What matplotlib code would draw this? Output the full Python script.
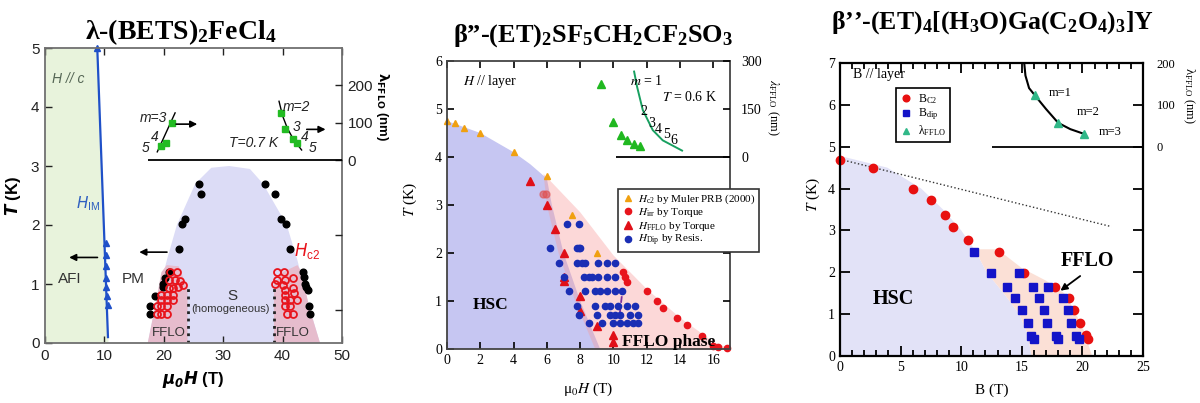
import numpy as np
import matplotlib
matplotlib.use('Agg')
import matplotlib.pyplot as plt

plt.rcParams['font.family'] = ['Liberation Sans', 'DejaVu Sans']
plt.rcParams['mathtext.fontset'] = 'stix'
plt.rcParams['mathtext.rm'] = 'Liberation Serif:bold'
plt.rcParams['mathtext.it'] = 'Liberation Serif:italic:bold'
plt.rcParams['mathtext.bf'] = 'Liberation Serif:bold'
SERIF = ['Liberation Serif', 'DejaVu Serif']

# ---------------- panel 1 data : lambda-(BETS)2FeCl4 ----------------
him_line_H = [8.8, 10.6]
him_line_T = [5.0, 0.1]
afi_edge_H = [8.8, 10.6, 10.6]
afi_edge_T = [5.0, 0.1, 0.0]
him_H = [8.8, 10.3, 10.3, 10.2, 10.3, 10.3, 10.5, 10.6]
him_T = [5.0, 1.7, 1.5, 1.3, 1.1, 0.95, 0.8, 0.65]

dome_H = [17.3, 18.5, 20.5, 22.2, 25.3, 28.0, 31.0, 34.5, 36.7, 40.7, 42.5, 44.5, 46.3]
dome_T = [0.0, 0.6, 1.4, 2.0, 2.7, 2.97, 3.0, 2.95, 2.7, 2.0, 1.4, 0.6, 0.0]
fflo_left_H = [17.3, 18.5, 19.6, 20.5, 22.5, 23.5, 24.0, 24.0]
fflo_left_T = [0.0, 0.6, 1.2, 1.32, 1.3, 1.05, 0.98, 0.0]
fflo_right_H = [38.55, 38.55, 40.0, 42.5, 43.2, 44.5, 46.3]
fflo_right_T = [0.0, 0.98, 1.2, 1.32, 1.2, 0.6, 0.0]

black_H = [26.0, 26.2, 37.0, 38.8, 23.6, 23.0, 22.6, 39.7, 40.5, 41.3,
           20.8, 20.2, 19.9, 19.8, 18.5, 17.7, 17.7,
           43.5, 43.6, 43.8, 44.0, 44.3, 44.5, 44.6]
black_T = [2.69, 2.52, 2.69, 2.52, 2.1, 2.02, 1.6, 2.1, 2.02, 1.6,
           1.21, 1.1, 1.0, 0.95, 0.8, 0.62, 0.5,
           1.21, 1.12, 1.0, 0.95, 0.9, 0.62, 0.5]

hc2_H = [18.8, 19.6, 20.5, 18.8, 19.6, 20.5, 19.6, 20.5, 21.6, 19.6, 20.5, 21.6,
         20.8, 21.6, 22.4, 23.3, 20.8, 21.9, 22.8, 21.0, 22.2,
         39.0, 40.3, 39.0, 40.4, 41.8, 38.7, 40.0, 40.4, 41.8, 40.4, 42.0,
         40.4, 41.2, 42.4, 40.4, 41.2, 40.8, 41.8]
hc2_T = [0.5, 0.5, 0.5, 0.62, 0.62, 0.62, 0.73, 0.73, 0.73, 0.81, 0.81, 0.81,
         0.93, 0.93, 0.95, 0.98, 1.07, 1.07, 1.05, 1.21, 1.21,
         1.21, 1.21, 1.07, 1.07, 1.1, 1.0, 0.98, 0.9, 0.93, 0.81, 0.85,
         0.73, 0.73, 0.73, 0.62, 0.62, 0.5, 0.5]

lam1_H_a = [21.4, 20.3, 19.6]
lam1_a = [98, 46, 38]
lam1_H_b = [39.7, 40.4, 41.8, 42.5]
lam1_b = [127, 82, 55, 46]
lam1_fit_H_a = [18.9, 21.9]
lam1_fit_a = [22, 126]
lam1_fit_H_b = [39.4, 40.0, 40.8, 41.8, 43.2]
lam1_fit_b = [157, 118, 85, 56, 27]

# ---------------- panel 2 data : beta''-(ET)2SF5CH2CF2SO3 ----------------
hsc2_H = [0, 0, 2, 4, 5, 6, 6.3, 7.0, 8.0, 9.2]
hsc2_T = [0, 4.75, 4.5, 4.1, 3.85, 3.55, 3.0, 2.0, 1.0, 0]
fflo2_H = [5.8, 8.0, 10.0, 12.0, 14.0, 16.0, 17.0, 8.9, 7.7, 6.7, 6.0]
fflo2_T = [3.65, 2.85, 1.95, 1.25, 0.65, 0.15, 0.0, 0.0, 1.0, 2.0, 3.0]

muler_H = [0, 0.5, 1, 2, 4, 6, 7.5, 9]
muler_T = [4.75, 4.7, 4.6, 4.5, 4.1, 3.6, 2.8, 2.0]
hirr_H = [10.6, 10.7, 10.8, 12.0, 12.6, 13.0, 13.8, 14.4, 15.3, 16.0, 16.3, 16.8]
hirr_T = [1.6, 1.5, 1.4, 1.2, 1.0, 0.85, 0.65, 0.5, 0.28, 0.07, 0.04, 0.03]
hirr_faint_H = [5.75, 5.95]
hirr_faint_T = [3.22, 3.22]
hfflo_H = [5.0, 6.0, 6.5, 7.0, 7.0, 7.0, 8.0, 8.0, 9.0, 10.0, 10.0]
hfflo_T = [3.5, 3.0, 2.5, 2.0, 1.5, 1.42, 1.1, 0.8, 0.48, 0.29, 0.15]
hdip_H = [7.2, 7.9,
          6.2, 7.8, 7.9, 8.0,
          6.7, 7.8, 8.1, 8.3, 9.1, 9.6, 10.1,
          7.0, 8.2, 8.5, 8.7, 9.1, 9.6, 10.1,
          7.3, 8.3, 8.9, 9.2, 9.6, 10.1, 10.5,
          7.8, 8.9, 9.5, 9.8, 10.3, 10.8, 11.3,
          7.9, 9.0, 9.8, 10.1, 10.4, 11.0, 11.5,
          8.5, 9.3, 10.0, 10.4, 10.8, 11.2, 11.5]
hdip_T = [2.6, 2.6,
          2.1, 2.1, 2.1, 2.1,
          1.8, 1.8, 1.8, 1.8, 1.8, 1.8, 1.8,
          1.5, 1.5, 1.5, 1.5, 1.5, 1.5, 1.5,
          1.2, 1.2, 1.2, 1.2, 1.2, 1.2, 1.2,
          0.9, 0.9, 0.9, 0.9, 0.9, 0.9, 0.9,
          0.7, 0.7, 0.7, 0.7, 0.7, 0.7, 0.7,
          0.55, 0.55, 0.55, 0.55, 0.55, 0.55, 0.55]
lam2_H = [9.27, 9.97, 10.43, 10.83, 11.23, 11.57]
lam2 = [228, 108, 70, 52, 40, 35]
lam2_fit_H = [11.24, 11.42, 11.76, 12.36, 12.96, 14.12]
lam2_fit = [267, 219, 147, 84, 52, 20]
m2_labels = ['2', '3', '4', '5', '6']
m2_H = [11.8, 12.3, 12.7, 13.2, 13.6]
m2_lam = [141, 105, 87, 69, 50]

# ---------------- panel 3 data : beta''-(ET)4[(H3O)Ga(C2O4)3]Y ----------------
hsc3_B = [0, 0, 3.9, 6.7, 8.5, 10.0, 11.2, 12.1, 13.5, 14.8, 15.5, 15.8]
hsc3_T = [0, 4.78, 4.5, 4.0, 3.5, 3.0, 2.5, 2.0, 1.5, 1.0, 0.5, 0.0]
fflo3_B = [10.8, 13.0, 15.0, 17.0, 18.5, 19.3, 20.0, 20.8, 15.8, 15.5, 14.8, 13.5, 12.1, 11.2]
fflo3_T = [2.55, 2.55, 2.1, 1.8, 1.5, 1.1, 0.7, 0.0, 0.0, 0.5, 1.0, 1.5, 2.0, 2.5]
bc2_B = [0, 2.7, 6.0, 7.5, 8.7, 9.35, 10.6, 13.1, 15.2, 17.7, 18.9, 19.3, 19.8, 20.3, 20.5]
bc2_T = [4.69, 4.5, 3.99, 3.72, 3.38, 3.08, 2.78, 2.48, 1.98, 1.65, 1.38, 1.11, 0.78, 0.49, 0.4]
bdip_B = [11.06, 12.5, 14.8, 13.8, 15.9, 17.2, 14.4, 16.4, 18.4, 14.98, 16.8, 18.8,
          15.5, 17.1, 19.1, 15.8, 16.0, 17.8, 18.0, 19.5, 19.7]
bdip_T = [2.48, 1.98, 1.98, 1.65, 1.65, 1.65, 1.38, 1.38, 1.38, 1.11, 1.11, 1.11,
          0.78, 0.78, 0.78, 0.48, 0.4, 0.48, 0.4, 0.48, 0.4]
pauli_B = [0, 22.4]
pauli_T = [4.7, 3.09]
lam3_B = [16.1, 18.0, 20.1]
lam3 = [123, 57, 31]
lam3_fit_B = [15.2, 15.3, 15.6, 16.1, 17.0, 18.0, 19.0, 20.1]
lam3_fit = [200, 170, 140, 122, 90, 57, 42, 31]
m3_labels = ['m=1', 'm=2', 'm=3']
m3_B = [18.2, 20.5, 22.3]
m3_lam = [129, 82, 34]

W, H = 1200, 403
fig = plt.figure(figsize=(W / 100, H / 100), dpi=100)


def box(l, t, r, b):
    return [l / W, 1 - b / H, (r - l) / W, (b - t) / H]


# ======================= panel 1 =======================
ax1 = fig.add_axes(box(45, 48, 342, 343))
ax1.set_xlim(0, 50)
ax1.set_ylim(0, 5)
ax1.fill_betweenx(afi_edge_T, 0, afi_edge_H, color='#e8f3dc', lw=0)
ax1.fill(dome_H, dome_T, color='#dcdcf6', lw=0)
ax1.fill(fflo_left_H, fflo_left_T, color='#e6bccd', lw=0)
ax1.fill(fflo_right_H, fflo_right_T, color='#e6bccd', lw=0)
ax1.plot([24, 24], [0, 0.98], ls=':', color='#222222', lw=2)
ax1.plot([38.55, 38.55], [0, 0.98], ls=':', color='#222222', lw=2)
ax1.plot(him_line_H, him_line_T, color='#1f50c8', lw=1.6)
ax1.plot(him_H, him_T, '^', color='#1f50c8', ms=5, clip_on=False)
ax1.plot(black_H, black_T, 'o', color='black', ms=4.8)
ax1.plot(hc2_H, hc2_T, 'o', mfc='none', mec='#e8141c', mew=1.3, ms=5)

ax1.annotate('', xy=(3.6, 1.45), xytext=(9.3, 1.45),
             arrowprops=dict(arrowstyle='-|>', color='black', lw=1.2))
ax1.annotate('', xy=(15.4, 1.54), xytext=(21.0, 1.54),
             arrowprops=dict(arrowstyle='-|>', color='black', lw=1.2))
ax1.text(3.9, 4.47, 'H // c', style='italic', fontsize=10, color='#556655', ha='center', va='center')
ax1.text(7.3, 2.37, r'$H_\mathregular{IM}$', color='#3060c0', fontsize=11, ha='center', va='center',
         math_fontfamily='dejavusans')
ax1.text(4.2, 1.08, 'AFI', fontsize=11, color='#333333', ha='center', va='center')
ax1.text(14.9, 1.08, 'PM', fontsize=11, color='#333333', ha='center', va='center')
ax1.text(31.5, 0.79, 'S', fontsize=11, color='#333333', ha='center', va='center')
ax1.text(31.3, 0.58, '(homogeneous)', fontsize=8, color='#333333', ha='center', va='center')
ax1.text(20.8, 0.17, 'FFLO', fontsize=9.5, color='#333333', ha='center', va='center')
ax1.text(41.8, 0.17, 'FFLO', fontsize=9.5, color='#333333', ha='center', va='center')
ax1.text(44.2, 1.56, r'$H_\mathregular{c2}$', color='#e8141c', fontsize=12, ha='center', va='center',
         math_fontfamily='dejavusans')

ax1.set_xticks([0, 10, 20, 30, 40, 50])
ax1.set_yticks([0, 1, 2, 3, 4, 5])
ax1.tick_params(direction='in', top=True, right=False, labelsize=11, colors='#222222',
                length=5, width=1, pad=4)
for sp in ax1.spines.values():
    sp.set_color('#707070')
    sp.set_linewidth(1.3)
ax1.set_xlabel(r'$\mathbfit{\mu_0H}$ (T)', fontsize=12, fontweight='bold', labelpad=5,
               math_fontfamily='dejavusans')
ax1.set_ylabel(r'$\mathbfit{T}$ (K)', fontsize=12, fontweight='bold', labelpad=6,
               math_fontfamily='dejavusans')

tw1 = ax1.twinx()
# lambda 0 at T=3.10, 100 nm = 0.635 K
tw1.set_ylim(-3.10 / 0.00635, (5 - 3.10) / 0.00635)
tw1.set_yticks([-400, -200, 0, 100, 200])
tw1.set_yticklabels(['', '', '0', '100', '200'])
tw1.tick_params(direction='in', labelsize=11, length=5, width=1, colors='#222222', pad=4)
for sp in tw1.spines.values():
    sp.set_visible(False)
tw1.hlines(0, 17.3, 50, color='black', lw=1.3)
tw1.plot(lam1_fit_H_a, lam1_fit_a, color='black', lw=1)
tw1.plot(lam1_fit_H_b, lam1_fit_b, color='black', lw=1)
tw1.plot(lam1_H_a, lam1_a, 's', color='#22bb22', ms=5)
tw1.plot(lam1_H_b, lam1_b, 's', color='#22bb22', ms=5)
tw1.annotate('', xy=(26.1, 96), xytext=(21.6, 96),
             arrowprops=dict(arrowstyle='-|>', color='black', lw=1.2))
tw1.annotate('', xy=(47.7, 82), xytext=(43.6, 82),
             arrowprops=dict(arrowstyle='-|>', color='black', lw=1.2))
for txt, x, y in [('m=3', 18.2, 112), ('4', 18.4, 62), ('5', 17.0, 32),
                  ('m=2', 42.4, 142), ('3', 42.3, 89), ('4', 43.8, 62), ('5', 45.0, 33),
                  ('T=0.7 K', 35.1, 46)]:
    tw1.text(x, y, txt, style='italic', fontsize=10, color='#222222', ha='center', va='center')
tw1.set_ylabel(r'$\mathbf{\lambda_{FFLO}}$ (nm)', fontsize=9.5, fontweight='bold', rotation=270,
               math_fontfamily='dejavusans', va='center')
tw1.yaxis.set_label_coords(1.135, 0.80)

fig.text(181 / W, 1 - 32 / H, r'λ-(BETS)$_2$FeCl$_4$', family=SERIF, fontweight='bold',
         fontsize=20, ha='center', va='center', math_fontfamily='custom')

# ======================= panel 2 =======================
ax2 = fig.add_axes(box(447, 61, 730, 349))
ax2.set_xlim(0, 17)
ax2.set_ylim(0, 6)
ax2.fill(hsc2_H, hsc2_T, color='#c6c6f2', lw=0)
ax2.fill(fflo2_H, fflo2_T, color='#f89a9a', alpha=0.38, lw=0)
ax2.plot([10.5, 10.35], [1.1, 0.65], ls='--', color='#7a30a0', lw=1.3)
l_mu, = ax2.plot(muler_H, muler_T, '^', color='#f0a010', ms=4.5, clip_on=False)
ax2.plot(hirr_faint_H, hirr_faint_T, 'o', color='#e05050', alpha=0.6, ms=5)
l_irr, = ax2.plot(hirr_H, hirr_T, 'o', color='#e8141c', ms=4.5, clip_on=False)
l_ff, = ax2.plot(hfflo_H, hfflo_T, '^', color='#e01018', ms=6)
l_dip, = ax2.plot(hdip_H, hdip_T, 'o', color='#1a2eb4', ms=4.5)
ax2.text(2.6, 5.57, r'$H$ // layer', family=SERIF, fontsize=10, ha='center', va='center')
ax2.text(2.6, 0.92, 'HSC', family=SERIF, fontweight='bold', fontsize=12.5, ha='center', va='center')
ax2.text(13.3, 0.14, 'FFLO phase', family=SERIF, fontweight='bold', fontsize=12.5, ha='center', va='center')
ax2.set_xticks(range(0, 17, 2))
ax2.set_yticks(range(0, 7))
ax2.tick_params(direction='in', top=True, right=False, labelsize=10, length=5, width=1.2)
for lab in ax2.get_xticklabels() + ax2.get_yticklabels():
    lab.set_family(SERIF)
for sp in ax2.spines.values():
    sp.set_color('#444444')
    sp.set_linewidth(1.3)
ax2.set_xlabel(r'$\mathregular{\mu}_0H$ (T)', family=SERIF, fontsize=11, labelpad=10)
ax2.set_ylabel(r'$T$ (K)', family=SERIF, fontsize=11)
ax2.yaxis.set_label_coords(-0.1, 0.52)

tw2 = ax2.twinx()
tw2.set_ylim(-600, 300)
tw2.set_yticks([-450, -300, -150, 0, 150, 300])
tw2.set_yticklabels(['', '', '', '0', '150', '300'])
tw2.tick_params(direction='in', labelsize=10, length=5, width=1.2, pad=8)
for lab in tw2.get_yticklabels():
    lab.set_family(SERIF)
for sp in tw2.spines.values():
    sp.set_visible(False)
tw2.hlines(0, 10.17, 17, color='black', lw=1.3)
tw2.plot(lam2_fit_H, lam2_fit, color='#18a060', lw=1.4)
tw2.plot(lam2_H, lam2, '^', color='#20b820', ms=6)
tw2.text(12.0, 237, r'$m$ = 1', family=SERIF, fontsize=10, ha='center', va='center')
tw2.text(14.6, 186, r'$T$ = 0.6 K', family=SERIF, fontsize=10, ha='center', va='center')
for txt, x, y in zip(m2_labels, m2_H, m2_lam):
    tw2.text(x, y, txt, family=SERIF, fontsize=10, ha='center', va='center')
tw2.set_ylabel(r'$\lambda_\mathregular{FFLO}$ (nm)', family=SERIF, fontsize=9, rotation=270, va='center')
tw2.yaxis.set_label_coords(1.15, 0.84)
leg2 = tw2.legend([l_mu, l_irr, l_ff, l_dip],
                  [r'$H_\mathregular{c2}$ by Muler PRB (2000)', r'$H_\mathregular{irr}$ by Torque',
                   r'$H_\mathregular{FFLO}$ by Torque', r'$H_\mathregular{Dip}$ by Resis.'],
                  loc='upper left', bbox_to_anchor=(0.604, 0.556), frameon=True, fancybox=False,
                  edgecolor='#333333', framealpha=1, prop={'family': SERIF, 'size': 8},
                  handletextpad=0.3, borderpad=0.3, labelspacing=0.05, handlelength=1.2,
                  borderaxespad=0)
leg2.get_frame().set_linewidth(1.2)

fig.text(593 / W, 1 - 36 / H, r'β”-(ET)$_2$SF$_5$CH$_2$CF$_2$SO$_3$', family=SERIF, fontweight='bold',
         fontsize=19, ha='center', va='center', math_fontfamily='custom')

# ======================= panel 3 =======================
ax3 = fig.add_axes(box(840, 63, 1143, 356))
ax3.set_xlim(0, 25)
ax3.set_ylim(0, 7)
ax3.fill(hsc3_B, hsc3_T, color='#e2e2f7', lw=0)
ax3.fill(fflo3_B, fflo3_T, color='#fbe0d6', lw=0)
ax3.plot(pauli_B, pauli_T, ls=':', color='#333333', lw=1)
ax3.plot(bc2_B, bc2_T, 'o', color='#e81010', ms=6, clip_on=False, label=r'B$_\mathregular{C2}$')
ax3.plot(bdip_B, bdip_T, 's', color='#1414c8', ms=5.5, label=r'B$_\mathregular{dip}$')
ax3.plot([], [], '^', color='#30b888', ms=5, label=r'λ$_\mathregular{FFLO}$')
ax3.text(3.2, 6.72, 'B // layer', family=SERIF, fontsize=10, ha='center', va='center')
ax3.text(4.4, 1.36, 'HSC', family=SERIF, fontweight='bold', fontsize=14.5, ha='center', va='center')
ax3.text(20.4, 2.27, 'FFLO', family=SERIF, fontweight='bold', fontsize=14.5, ha='center', va='center')
ax3.annotate('', xy=(18.0, 1.52), xytext=(20.0, 1.95),
             arrowprops=dict(arrowstyle='-|>', color='black', lw=1.3))
leg3 = ax3.legend(loc='upper left', bbox_to_anchor=(0.185, 0.915), frameon=True, fancybox=False,
                  edgecolor='black', framealpha=1, prop={'family': SERIF, 'size': 8.5},
                  handletextpad=0.5, borderpad=0.35, labelspacing=0.12, handlelength=1.0,
                  borderaxespad=0, markerscale=0.8)
leg3.get_frame().set_linewidth(1.2)
ax3.set_xticks(range(0, 26, 5))
ax3.set_xticks(range(0, 26), minor=True)
ax3.set_yticks(range(0, 8))
ax3.tick_params(which='both', direction='in', top=True, right=False, labelsize=10, width=1.3)
ax3.tick_params(which='major', length=7)
ax3.tick_params(which='minor', length=4)
for lab in ax3.get_xticklabels() + ax3.get_yticklabels():
    lab.set_family(SERIF)
for sp in ax3.spines.values():
    sp.set_color('black')
    sp.set_linewidth(1.6)
ax3.set_xlabel('B (T)', family=SERIF, fontsize=11, labelpad=7)
ax3.set_ylabel(r'$T$ (K)', family=SERIF, fontsize=11)
ax3.yaxis.set_label_coords(-0.06, 0.55)

tw3 = ax3.twinx()
tw3.set_ylim(-500, 200)
tw3.set_yticks([-400, -300, -200, -100, 0, 100, 200])
tw3.set_yticklabels(['', '', '', '', '0', '100', '200'])
tw3.tick_params(direction='in', labelsize=9, length=7, width=1.3, pad=10)
for lab in tw3.get_yticklabels():
    lab.set_family(SERIF)
for sp in tw3.spines.values():
    sp.set_visible(False)
tw3.hlines(0, 12.5, 25, color='black', lw=1.3)
tw3.plot(lam3_fit_B, lam3_fit, color='black', lw=1.5)
tw3.plot(lam3_B, lam3, '^', color='#30b888', ms=6)
for txt, x, y in zip(m3_labels, m3_B, m3_lam):
    tw3.text(x, y, txt, family=SERIF, fontsize=9, ha='center', va='center')
tw3.set_ylabel(r'λ$_\mathregular{FFLO}$ (nm)', family=SERIF, fontsize=9, rotation=270, va='center')
tw3.yaxis.set_label_coords(1.15, 0.89)

fig.text(993 / W, 1 - 23 / H, r'β’’-(ET)$_4$[(H$_3$O)Ga(C$_2$O$_4$)$_3$]Y', family=SERIF,
         fontweight='bold', fontsize=18.5, ha='center', va='center', math_fontfamily='custom')

fig.savefig('out.png', dpi=100)
